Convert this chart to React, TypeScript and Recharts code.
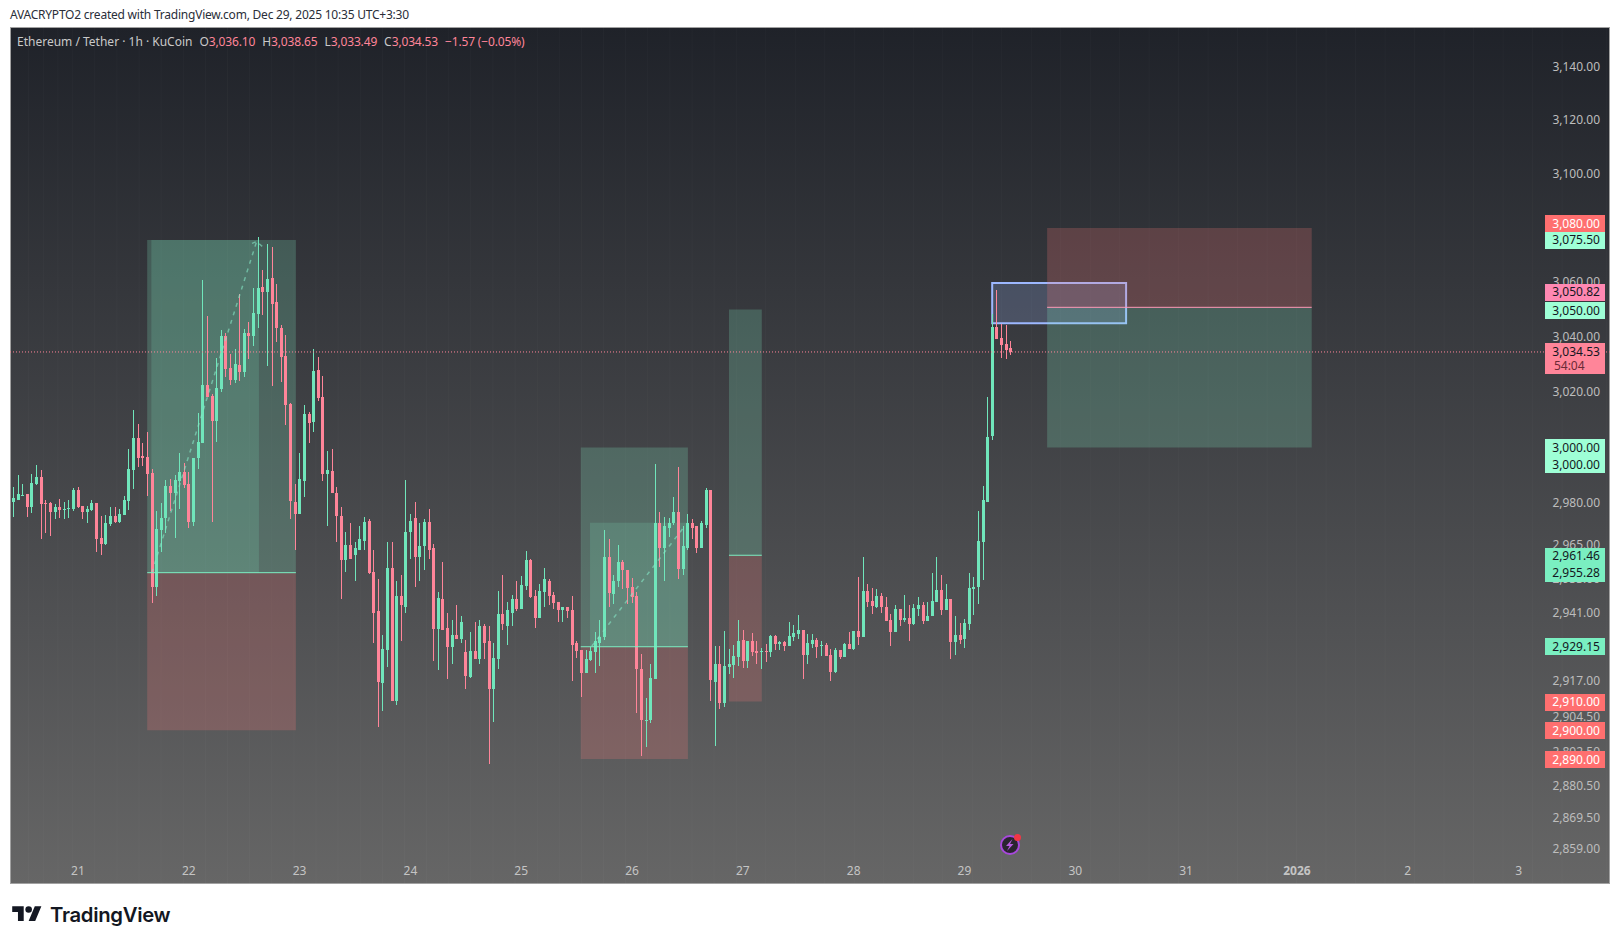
import React from 'react';
import {
  ComposedChart,
  Bar,
  Cell,
  XAxis,
  YAxis,
  CartesianGrid,
  ReferenceArea,
  ReferenceLine,
  ReferenceDot,
} from 'recharts';

// hourly candles, index 0 = Dec 20 10:00
const opens = [
  2980.3, 2981.0, 2982.6, 2983.2, 2978.5, 2986.8, 2989.3, 2979.9, 2979.9, 2976.7,
  2978.5, 2977.4, 2977.8, 2977.8, 2984.6, 2978.9, 2976.7, 2977.4, 2979.9, 2967.5,
  2965.3, 2972.5, 2975.3, 2973.2, 2975.7, 2980.7, 2991.8, 3003.3, 2996.8, 2996.5,
  2990.7, 2950.1, 2970.3, 2974.6, 2986.0, 2983.5, 2987.8, 2991.1, 2986.8, 2973.2,
  2996.1, 3001.5, 3022.5, 3018.5, 3009.4, 3021.1, 3040.3, 3028.7, 3024.3, 3029.8,
  3027.2, 3041.4, 3040.3, 3048.3, 3058.2, 3056.4, 3061.5, 3052.7, 3043.2, 3033.0,
  3015.6, 2980.3, 2976.0, 2987.8, 3012.0, 3009.1, 3027.9, 3018.1, 2990.4, 2991.4,
  2983.8, 2975.3, 2959.6, 2965.0, 2961.7, 2963.5, 2966.7, 2973.5, 2955.4, 2941.6,
  2916.6, 2928.1, 2956.8, 2910.0, 2946.9, 2943.3, 2969.6, 2974.6, 2960.7, 2964.6,
  2973.2, 2963.9, 2935.3, 2945.8, 2935.6, 2928.9, 2933.4, 2932.0, 2927.4, 2918.7,
  2927.8, 2925.0, 2936.3, 2931.0, 2914.5, 2925.0, 2940.6, 2936.6, 2941.2, 2945.8,
  2942.6, 2950.4, 2959.6, 2946.9, 2939.1, 2948.3, 2952.5, 2947.3, 2944.8, 2942.0,
  2943.3, 2942.0, 2930.3, 2928.1, 2920.1, 2924.6, 2927.4, 2930.6, 2932.4, 2960.7,
  2947.6, 2952.2, 2958.9, 2956.4, 2950.1, 2946.9, 2921.4, 2903.3, 2903.7, 2917.9,
  2973.1, 2964.2, 2971.3, 2972.8, 2976.7, 2956.7, 2964.2, 2972.8, 2971.7, 2964.2,
  2972.4, 2984.6, 2916.9, 2923.2, 2909.6, 2922.1, 2922.8, 2925.6, 2931.6, 2924.2,
  2931.2, 2927.8, 2927.4, 2927.8, 2927.4, 2933.0, 2930.2, 2930.9, 2929.5, 2932.7,
  2933.7, 2935.1, 2926.3, 2930.2, 2931.6, 2929.5, 2929.8, 2926.3, 2920.4, 2928.1,
  2925.6, 2930.2, 2928.4, 2934.8, 2932.7, 2948.9, 2945.4, 2943.3, 2947.2, 2943.3,
  2938.7, 2934.4, 2942.6, 2938.7, 2939.4, 2937.2, 2942.6, 2944.0, 2938.3, 2939.8,
  2945.0, 2949.3, 2942.2, 2945.8, 2930.9, 2933.3, 2931.9, 2937.2, 2949.6, 2950.3,
  2966.0, 2980.6, 3004.0, 3043.5, 3039.5, 3037.3, 3036.1,
];

const highs = [
  2985.8, 2990.0, 2986.8, 2983.4, 2990.4, 2993.6, 2991.8, 2981.0, 2980.3, 2979.8,
  2981.4, 2980.3, 2981.0, 2985.3, 2985.7, 2978.9, 2978.9, 2981.0, 2979.9, 2975.3,
  2975.7, 2978.5, 2978.5, 2977.8, 2982.5, 2999.4, 3013.4, 3008.4, 3001.5, 3005.5,
  2992.2, 2977.1, 2979.9, 2988.2, 2988.6, 2990.0, 2997.9, 2994.3, 2991.1, 2996.1,
  3012.3, 3060.8, 3047.6, 3019.3, 3032.3, 3042.5, 3041.4, 3033.8, 3035.6, 3055.6,
  3042.8, 3045.4, 3057.8, 3076.6, 3064.5, 3074.0, 3072.9, 3059.3, 3044.3, 3040.7,
  3016.0, 2986.8, 2997.9, 3015.3, 3012.7, 3035.6, 3032.7, 3025.7, 2998.6, 2999.6,
  2985.7, 2978.5, 2969.6, 2972.8, 2966.3, 2971.7, 2974.9, 2974.2, 2963.2, 2952.9,
  2933.4, 2966.3, 2966.3, 2952.5, 2954.3, 2988.2, 2976.0, 2980.3, 2972.8, 2974.2,
  2977.8, 2965.3, 2948.3, 2958.9, 2941.2, 2938.4, 2943.7, 2939.8, 2931.6, 2934.5,
  2937.7, 2938.7, 2937.3, 2936.6, 2930.3, 2948.7, 2954.3, 2944.8, 2947.3, 2952.5,
  2954.0, 2962.8, 2960.3, 2949.0, 2951.1, 2956.8, 2952.9, 2948.3, 2944.8, 2943.3,
  2943.3, 2946.9, 2931.3, 2928.1, 2928.1, 2929.2, 2934.5, 2938.7, 2970.6, 2967.4,
  2954.3, 2965.0, 2959.6, 2956.4, 2953.3, 2948.3, 2926.6, 2911.3, 2923.2, 2994.2,
  2976.7, 2974.9, 2974.6, 2982.1, 2992.8, 2971.7, 2976.0, 2974.2, 2971.7, 2973.8,
  2985.6, 2984.9, 2929.5, 2929.5, 2934.8, 2928.4, 2929.8, 2938.7, 2935.1, 2931.2,
  2934.1, 2931.2, 2928.8, 2930.2, 2933.4, 2933.4, 2931.2, 2931.2, 2938.0, 2936.9,
  2940.4, 2935.1, 2933.7, 2933.7, 2932.3, 2931.2, 2930.5, 2928.4, 2928.8, 2928.1,
  2930.5, 2934.4, 2934.8, 2953.6, 2960.7, 2951.4, 2950.0, 2949.6, 2948.2, 2946.8,
  2940.8, 2944.0, 2942.6, 2947.5, 2944.0, 2944.3, 2946.8, 2945.0, 2945.0, 2955.3,
  2960.7, 2954.6, 2951.4, 2946.1, 2940.1, 2937.6, 2939.0, 2955.3, 2953.9, 2977.1,
  2986.3, 3018.1, 3048.3, 3057.1, 3044.6, 3044.2, 3038.65,
];

const lows = [
  2975.1, 2981.0, 2982.5, 2975.1, 2976.5, 2986.4, 2967.1, 2969.3, 2968.2, 2974.3,
  2974.6, 2974.3, 2974.6, 2977.1, 2978.3, 2974.3, 2972.8, 2977.1, 2962.5, 2961.4,
  2965.0, 2971.8, 2972.8, 2972.8, 2975.7, 2977.4, 2985.0, 2992.9, 2993.3, 2982.5,
  2944.4, 2946.9, 2962.5, 2969.3, 2977.1, 2967.5, 2977.8, 2985.3, 2971.0, 2971.8,
  2992.2, 3001.5, 3018.2, 2973.2, 3001.8, 3020.0, 3025.4, 3022.5, 3023.2, 3023.9,
  3025.4, 3031.9, 3036.7, 3043.2, 3047.9, 3029.4, 3022.1, 3038.1, 3023.6, 3008.0,
  2974.3, 2963.2, 2976.0, 2982.1, 3001.5, 3005.5, 3016.7, 2987.9, 2971.7, 2983.5,
  2966.0, 2945.8, 2955.4, 2960.0, 2952.5, 2963.5, 2963.2, 2954.7, 2930.3, 2901.2,
  2906.8, 2922.2, 2910.0, 2908.9, 2931.0, 2940.9, 2960.0, 2950.1, 2952.2, 2956.4,
  2960.0, 2924.0, 2921.1, 2934.9, 2918.0, 2923.2, 2932.0, 2930.6, 2914.5, 2918.3,
  2925.0, 2923.2, 2925.0, 2888.4, 2903.0, 2921.5, 2934.9, 2929.9, 2936.6, 2941.6,
  2942.6, 2949.0, 2946.2, 2935.9, 2939.1, 2943.0, 2943.7, 2942.3, 2938.0, 2938.0,
  2939.1, 2917.3, 2925.3, 2911.7, 2920.1, 2924.0, 2920.1, 2922.5, 2931.6, 2943.3,
  2944.1, 2950.1, 2949.4, 2944.1, 2944.4, 2906.1, 2891.2, 2894.3, 2902.6, 2917.9,
  2957.4, 2952.5, 2967.8, 2972.1, 2953.2, 2954.6, 2963.2, 2967.1, 2962.4, 2964.2,
  2971.3, 2910.3, 2894.6, 2907.2, 2907.9, 2919.7, 2918.3, 2922.5, 2921.8, 2921.8,
  2926.0, 2923.2, 2921.4, 2923.9, 2925.6, 2928.1, 2928.1, 2927.8, 2929.5, 2931.2,
  2932.0, 2917.9, 2923.2, 2928.8, 2925.3, 2926.0, 2926.0, 2917.2, 2920.0, 2925.0,
  2925.6, 2928.4, 2928.1, 2929.8, 2932.7, 2943.3, 2940.8, 2942.9, 2941.2, 2938.3,
  2929.5, 2934.4, 2936.5, 2938.0, 2931.2, 2936.9, 2939.8, 2937.2, 2938.3, 2939.8,
  2945.0, 2940.4, 2942.2, 2925.0, 2926.3, 2930.2, 2928.7, 2935.1, 2940.4, 2944.3,
  2952.8, 2980.6, 3002.6, 3039.1, 3032.2, 3031.8, 3033.49,
];

const closes = [
  2981.8, 2983.2, 2983.1, 2978.5, 2987.1, 2989.3, 2979.6, 2979.6, 2976.7, 2978.5,
  2977.4, 2977.8, 2978.1, 2984.6, 2978.5, 2976.7, 2977.8, 2979.9, 2967.1, 2965.3,
  2972.8, 2975.3, 2973.2, 2976.0, 2981.0, 2992.2, 3003.3, 2996.1, 2996.1, 2990.4,
  2950.1, 2970.7, 2974.6, 2986.0, 2983.5, 2988.2, 2991.1, 2986.4, 2973.2, 2996.1,
  3001.8, 3022.5, 3018.2, 3009.4, 3021.4, 3040.3, 3028.3, 3024.3, 3030.1, 3027.2,
  3041.4, 3040.3, 3048.6, 3057.8, 3056.4, 3061.2, 3052.0, 3043.2, 3032.7, 3015.3,
  2980.7, 2976.0, 2988.6, 3012.0, 3008.7, 3027.6, 3017.8, 2990.4, 2991.8, 2983.5,
  2975.3, 2959.6, 2965.0, 2960.0, 2963.9, 2967.1, 2973.2, 2955.0, 2941.2, 2916.9,
  2928.5, 2956.8, 2910.3, 2946.9, 2943.7, 2969.6, 2973.5, 2960.7, 2964.6, 2973.2,
  2963.5, 2935.3, 2946.2, 2934.9, 2928.9, 2933.4, 2932.0, 2938.0, 2919.0, 2927.8,
  2925.0, 2936.3, 2930.6, 2914.5, 2925.3, 2940.6, 2937.0, 2942.0, 2945.8, 2942.6,
  2950.8, 2959.6, 2946.6, 2939.1, 2948.7, 2952.9, 2946.9, 2944.4, 2942.0, 2943.3,
  2941.6, 2929.9, 2927.8, 2920.1, 2925.0, 2927.8, 2931.0, 2932.7, 2960.7, 2948.0,
  2952.5, 2958.9, 2956.1, 2949.8, 2946.6, 2921.5, 2903.7, 2903.7, 2918.3, 2973.1,
  2964.2, 2971.7, 2973.1, 2976.7, 2956.7, 2964.6, 2972.8, 2971.3, 2964.2, 2972.8,
  2984.6, 2917.6, 2923.2, 2909.6, 2922.5, 2923.2, 2926.0, 2931.2, 2924.2, 2931.2,
  2927.4, 2927.1, 2927.8, 2927.4, 2933.0, 2930.2, 2930.9, 2929.5, 2933.0, 2934.1,
  2935.1, 2926.3, 2930.5, 2931.6, 2929.1, 2929.8, 2926.0, 2920.4, 2928.1, 2925.6,
  2930.2, 2928.4, 2934.8, 2932.7, 2948.9, 2945.0, 2943.6, 2947.2, 2943.3, 2938.3,
  2934.4, 2942.6, 2938.7, 2939.4, 2937.2, 2942.9, 2944.0, 2938.3, 2940.1, 2945.4,
  2949.3, 2942.2, 2945.8, 2930.9, 2933.4, 2931.6, 2937.6, 2950.0, 2950.3, 2966.4,
  2981.0, 3003.7, 3043.5, 3039.1, 3036.9, 3035.4, 3034.53,
];

const dayTicks = [14, 38, 62, 86, 110, 134, 158, 182, 206, 230, 254, 278, 302, 326];
const dayLabels = ['21', '22', '23', '24', '25', '26', '27', '28', '29', '30', '31', '2026', '2', '3'];

// 3,080, 3,000 and 2,929 sit fully under price tags in the reference, so they are left out
const priceTicks = [
  3140, 3120, 3100, 3060, 3040, 3020, 2980, 2965, 2953, 2941, 2917,
  2904.5, 2892.5, 2880.5, 2869.5, 2859,
];

// position tool boxes: [start hour, end hour, upper, middle, lower]
const longZones = [
  [29, 61.2, 3075.5, 2955.28, 2900],
  [122.9, 146.1, 3000, 2929.15, 2890],
  [155, 162.1, 3050, 2961.46, 2910],
];
const shortZones = [[223.9, 281.2, 3080, 3050.82, 3000]];

// lighter "in profit" parts: [start hour, end hour, upper, lower]
const profitAreas = [
  [29.9, 53.2, 3075.5, 2955.28],
  [124.9, 146.1, 2973, 2929.15],
];

// dashed trade paths: [start hour, start price, end hour, end price]
const tradePaths = [
  [30, 2955.28, 52.7, 3075],
  [51.7, 3074.3, 52.7, 3075],
  [53.9, 3073.2, 52.7, 3075],
  [125.3, 2929.4, 145.5, 2972],
];

const selectionBox = [212, 241, 3059.7, 3045];

const tagPrices = [3080, 3075.5, 3050.82, 3050, 3034.53, 3000, 3000, 2961.46, 2955.28, 2929.15, 2910, 2900, 2890];
const tagKinds = ['loss', 'mint', 'pink', 'mint', 'last', 'mint', 'mint', 'entry', 'entry', 'entry', 'loss', 'loss', 'loss'];
// tags are pushed apart when they would overlap
const tagShifts = [-4, 0, -15, 1, 0, 0.5, 17.5, 1, 0.7, 0, 0.7, 0.7, 0.7];

const lastPrice = 3034.53;
const countdown = '54:04';

const candles = opens.map((open, i) => ({
  hour: i,
  wick: [lows[i], highs[i]],
  body: [Math.min(open, closes[i]), Math.max(open, closes[i])],
  up: closes[i] >= open,
}));

const WIDTH = 1600;
const HEIGHT = 857;
const UP = '#70e6bb';
const DOWN = '#ff8599';
const FONT = '"Noto Sans", sans-serif';
const HOUR_DOMAIN = [-0.715, 345.8];
const PRICE_DOMAIN = [2847, 3155.1];
const TAG_HOUR = 338.2;
const PROFIT_GREEN = '#85edc6';

const TAG_STYLES: Record<string, { bg: string; fg: string }> = {
  loss: { bg: '#ff6f6f', fg: '#ffffff' },
  mint: { bg: '#9effd6', fg: '#131722' },
  pink: { bg: '#ff88b2', fg: '#131722' },
  last: { bg: '#ff8599', fg: '#131722' },
  entry: { bg: '#7aefc1', fg: '#131722' },
};

const fmt = (v: number) =>
  v.toLocaleString('en-US', { minimumFractionDigits: 2, maximumFractionDigits: 2 });

const PriceTag = ({ cx, cy, price, kind, shift }: any) => {
  const style = TAG_STYLES[kind];
  const y = cy + shift;
  return (
    <g fontFamily={FONT} fontSize={12}>
      <rect
        x={cx - 30}
        y={y - 8.5}
        width={60}
        height={kind === 'last' ? 31 : 17}
        fill={style.bg}
        shapeRendering="crispEdges"
      />
      <text x={cx + 25} y={y + 4} textAnchor="end" fill={style.fg}>
        {fmt(price)}
      </text>
      {kind === 'last' && (
        <text x={cx + 25 - 46} y={y + 18} fill="#6b2a36">
          {countdown}
        </text>
      )}
    </g>
  );
};

const PriceTick = ({ y, payload }: any) => (
  <text x={1590} y={y + 4} textAnchor="end" fontFamily={FONT} fontSize={12} fill="#bdbdbd">
    {fmt(payload.value)}
  </text>
);

const DayTick = ({ x, index }: any) => (
  <text
    x={x}
    y={HEIGHT - 9}
    textAnchor="middle"
    fontFamily={FONT}
    fontSize={12}
    fontWeight={dayLabels[index] === '2026' ? 700 : 400}
    fill="#c4c4c4"
  >
    {dayLabels[index]}
  </text>
);

const quoteStyle = { color: DOWN, letterSpacing: -0.16 };
const fieldStyle = { marginLeft: 7 };

const Legend = () => (
  <div
    style={{
      position: 'absolute',
      left: 17,
      top: 34,
      fontFamily: FONT,
      fontSize: 12,
      lineHeight: '16px',
      color: '#c9c9c9',
      whiteSpace: 'pre',
    }}
  >
    Ethereum / Tether · 1h · KuCoin
    <span style={fieldStyle}>O</span>
    <span style={quoteStyle}>3,036.10</span>
    <span style={fieldStyle}>H</span>
    <span style={quoteStyle}>3,038.65</span>
    <span style={fieldStyle}>L</span>
    <span style={quoteStyle}>3,033.49</span>
    <span style={fieldStyle}>C</span>
    <span style={quoteStyle}>3,034.53</span>
    <span style={{ ...quoteStyle, marginLeft: 7 }}>−1.57 (−0.05%)</span>
  </div>
);

const Logo = () => (
  <div style={{ position: 'absolute', left: 12, top: 902, display: 'flex', alignItems: 'center' }}>
    <svg width={30} height={23} viewBox="0 0 36 28">
      <path d="M14 22H7V11H0V4h14v18zM28 22h-8l7.5-18h8L28 22z" fill="#131722" />
      <circle cx={20} cy={8} r={4} fill="#131722" />
    </svg>
    <span
      style={{
        marginLeft: 8,
        fontFamily: 'Inter, sans-serif',
        fontSize: 20.3,
        fontWeight: 600,
        letterSpacing: -0.3,
        color: '#131722',
      }}
    >
      TradingView
    </span>
  </div>
);

const BoltIcon = () => (
  <svg style={{ position: 'absolute', left: 998, top: 833 }} width={24} height={24} viewBox="0 0 24 24">
    <circle cx={12} cy={12} r={9} fill="#2a2530" stroke="#a848dc" strokeWidth={2} />
    <path d="M14.5 6l-6.5 7h3.5l-2.5 5 6.5-7h-3.5l2.5-5z" fill="#b85be0" />
    <circle cx={19.5} cy={4.5} r={3.5} fill="#f23645" />
  </svg>
);

export default function App() {
  return (
    <div style={{ position: 'absolute', left: 0, top: 0, width: 1620, height: 944, background: '#fff', overflow: 'hidden' }}>
      <div
        style={{
          position: 'absolute',
          left: 10,
          top: 7,
          fontFamily: FONT,
          fontSize: 12,
          lineHeight: '16px',
          letterSpacing: -0.22,
          color: '#2a2e39',
          whiteSpace: 'pre',
        }}
      >
        AVACRYPTO2 created with TradingView.com, Dec 29, 2025 10:35 UTC+3:30
      </div>
      <div
        style={{
          position: 'absolute',
          left: 10,
          top: 27,
          width: WIDTH,
          height: HEIGHT,
          background: 'linear-gradient(180deg, #1f2229 0%, #666666 100%)',
          boxShadow: 'inset 0 0 0 1px #a0a0a0',
        }}
      >
        <ComposedChart
          width={WIDTH}
          height={HEIGHT}
          data={candles}
          margin={{ top: 0, right: 0, bottom: 0, left: 0 }}
        >
          <CartesianGrid stroke="rgba(255,255,255,0.025)" />
          <XAxis
            xAxisId="body"
            type="number"
            dataKey="hour"
            domain={HOUR_DOMAIN}
            ticks={dayTicks}
            interval={0}
            allowDataOverflow
            mirror
            axisLine={false}
            tickLine={false}
            tick={<DayTick />}
          />
          <XAxis xAxisId="wick" type="number" dataKey="hour" domain={HOUR_DOMAIN} allowDataOverflow hide />
          <YAxis
            yAxisId="price"
            orientation="right"
            scale="log"
            domain={PRICE_DOMAIN}
            ticks={priceTicks}
            interval={0}
            allowDataOverflow
            mirror
            axisLine={false}
            tickLine={false}
            tick={<PriceTick />}
          />

          <ReferenceArea
            xAxisId="body"
            yAxisId="price"
            x1={selectionBox[0]}
            x2={selectionBox[1]}
            y1={selectionBox[2]}
            y2={selectionBox[3]}
            fill="#9db8ff"
            fillOpacity={0.2}
            stroke="#9db8ff"
            strokeWidth={2}
          />
          {[...longZones, ...shortZones].map((zone, i) => {
            const isShort = i >= longZones.length;
            const [x1, x2, upper, middle, lower] = zone;
            return (
              <React.Fragment key={i}>
                <ReferenceArea
                  xAxisId="body"
                  yAxisId="price"
                  x1={x1}
                  x2={x2}
                  y1={upper}
                  y2={middle}
                  fill={isShort ? '#ff7a7a' : PROFIT_GREEN}
                  fillOpacity={0.22}
                  strokeWidth={0}
                />
                <ReferenceArea
                  xAxisId="body"
                  yAxisId="price"
                  x1={x1}
                  x2={x2}
                  y1={middle}
                  y2={lower}
                  fill={isShort ? PROFIT_GREEN : '#ff7a7a'}
                  fillOpacity={0.22}
                  strokeWidth={0}
                />
                <ReferenceLine
                  xAxisId="body"
                  yAxisId="price"
                  segment={[
                    { x: x1, y: middle },
                    { x: x2, y: middle },
                  ]}
                  stroke={isShort ? '#ff9ab8' : '#7cf0c3'}
                  strokeWidth={1}
                />
              </React.Fragment>
            );
          })}
          {profitAreas.map(([x1, x2, upper, lower], i) => (
            <ReferenceArea
              key={i}
              xAxisId="body"
              yAxisId="price"
              x1={x1}
              x2={x2}
              y1={upper}
              y2={lower}
              fill={PROFIT_GREEN}
              fillOpacity={0.17}
              strokeWidth={0}
            />
          ))}
          {tradePaths.map(([x1, y1, x2, y2], i) => (
            <ReferenceLine
              key={i}
              xAxisId="body"
              yAxisId="price"
              segment={[
                { x: x1, y: y1 },
                { x: x2, y: y2 },
              ]}
              stroke="#86e8c6"
              strokeOpacity={0.6}
              strokeWidth={1.5}
              strokeDasharray="4 5"
            />
          ))}

          <ReferenceLine
            xAxisId="body"
            yAxisId="price"
            y={lastPrice}
            stroke={DOWN}
            strokeDasharray="1 2"
          />

          <Bar xAxisId="wick" yAxisId="price" dataKey="wick" barSize={1} minPointSize={1} isAnimationActive={false} shapeRendering="crispEdges">
            {candles.map((c) => (
              <Cell key={c.hour} fill={c.up ? UP : DOWN} />
            ))}
          </Bar>
          <Bar xAxisId="body" yAxisId="price" dataKey="body" barSize={3} minPointSize={1} isAnimationActive={false} shapeRendering="crispEdges">
            {candles.map((c) => (
              <Cell key={c.hour} fill={c.up ? UP : DOWN} />
            ))}
          </Bar>
        </ComposedChart>
      </div>

      {/* second layer so the price tags cover the axis labels, same scales as the chart below */}
      <div style={{ position: 'absolute', left: 10, top: 27, width: WIDTH, height: HEIGHT }}>
        <ComposedChart
          width={WIDTH}
          height={HEIGHT}
          data={candles}
          margin={{ top: 0, right: 0, bottom: 0, left: 0 }}
        >
          <XAxis xAxisId="body" type="number" dataKey="hour" domain={HOUR_DOMAIN} allowDataOverflow hide />
          <YAxis yAxisId="price" orientation="right" scale="log" domain={PRICE_DOMAIN} allowDataOverflow hide />
          {tagPrices.map((price, i) => (
            <ReferenceDot
              key={i}
              xAxisId="body"
              yAxisId="price"
              x={TAG_HOUR}
              y={price}
              shape={<PriceTag price={price} kind={tagKinds[i]} shift={tagShifts[i]} />}
            />
          ))}
        </ComposedChart>
      </div>
      <Legend />
      <BoltIcon />
      <Logo />
    </div>
  );
}
